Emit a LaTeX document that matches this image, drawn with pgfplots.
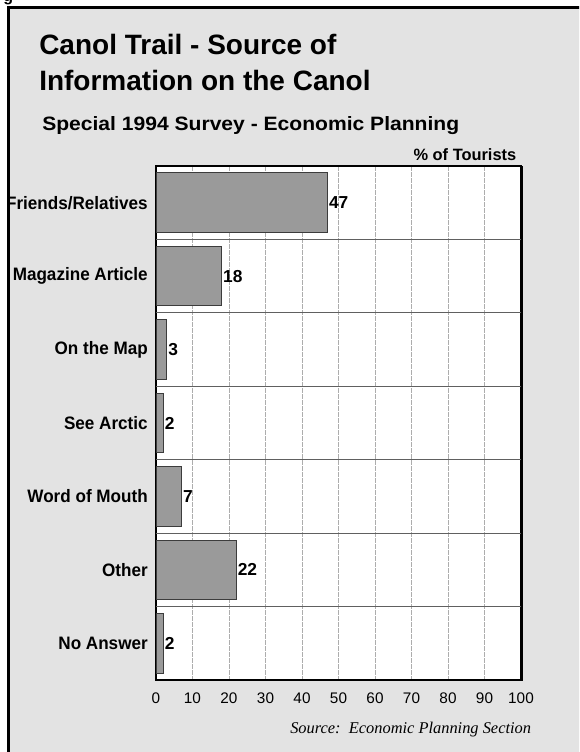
\documentclass[border=0pt]{standalone}
\usepackage{pgfplots}
\pgfplotsset{compat=1.18}
\usepackage{fontspec}
\setmainfont{Liberation Sans}
\newfontfamily\sourcefont{Liberation Serif}
\definecolor{panel}{HTML}{E3E3E3}
\definecolor{barfill}{HTML}{9A9A9A}
\definecolor{baredge}{HTML}{3C3C3C}
\definecolor{sepline}{HTML}{606060}
\definecolor{gridline}{HTML}{ADADAD}
\definecolor{shade}{HTML}{7A7A7A}
% slightly narrowed category names
\newcommand\cat[1]{\scalebox{0.95}[1]{#1}}

\begin{document}
\begin{tikzpicture}
\useasboundingbox (0,0) rectangle (434.25pt,-564pt);
\clip (0,0) rectangle (434.25pt,-564pt);
% panel and headings, laid out on a 0.75pt grid from the top left corner
\begin{scope}[x=0.75pt,y=-0.75pt]
\fill[panel] (8.7,7.5) rectangle (600,780);
\node[anchor=base west, inner sep=0pt, font=\fontsize{12}{14}\selectfont\bfseries] at (3,1.5) {g};
\node[anchor=base west, inner sep=0pt, font=\fontsize{21}{25}\selectfont\bfseries]
      at (39,55) {Canol Trail - Source of};
\node[anchor=base west, inner sep=0pt, font=\fontsize{21}{25}\selectfont\bfseries]
      at (39,90.7) {Information on the Canol};
\node[anchor=base west, inner sep=0pt, font=\fontsize{14.5}{17}\selectfont\bfseries]
      at (42,130.7) {\scalebox{1.09}[1]{Special 1994 Survey - Economic Planning}};
\node[anchor=base east, inner sep=0pt, font=\fontsize{12.3}{14}\selectfont\bfseries]
      at (516.5,160.7) {\% of Tourists};
\node[anchor=base west, inner sep=0pt, font=\fontsize{12.3}{14}\selectfont\sourcefont\itshape]
      at (290,733) {Source:\ \ Economic Planning Section};
\end{scope}

\begin{scope}
\clip (6.5pt,-5.6pt) rectangle (450pt,-600pt);
\begin{axis}[
  at={(117pt,-510pt)}, anchor=south west,
  scale only axis, width=273.75pt, height=385.5pt,
  xbar, bar width=0.81,
  xmin=0, xmax=100, ymin=0.5, ymax=7.5, y dir=reverse,
  xtick={0,10,...,100},
  ytick={1,...,7},
  yticklabels={\cat{Friends/Relatives}, \cat{Magazine Article}, \cat{On the Map}, \cat{See Arctic}, \cat{Word of Mouth}, \cat{Other}, \cat{No Answer}},
  major tick length=0pt,
  xmajorgrids,
  major x grid style={gridline, dash pattern=on 3.5pt off 1pt, line width=0.55pt},
  axis line style={black, line width=1pt},
  axis background/.style={fill=white},
  /pgf/number format/assume math mode=true,
  xticklabel style={font=\fontsize{11.5}{13}\selectfont, anchor=north, inner sep=0pt, yshift=-9.5pt},
  yticklabel style={font=\fontsize{13.5}{16}\selectfont\bfseries, anchor=east, inner sep=0pt, xshift=-6pt},
  nodes near coords,
  nodes near coords style={font=\fontsize{13}{15}\selectfont\bfseries, anchor=west, inner sep=0.75pt},
  clip=false,
]
\addplot[fill=barfill, draw=baredge, line width=0.75pt]
  coordinates {(47,1) (18,2) (3,3) (2,4) (7,5) (22,6) (2,7)};
% separators between the answer categories
\draw[sepline, line width=0.8pt] (axis cs:0,1.5) -- (axis cs:100,1.5);
\draw[sepline, line width=0.8pt] (axis cs:0,2.5) -- (axis cs:100,2.5);
\draw[sepline, line width=0.8pt] (axis cs:0,3.5) -- (axis cs:100,3.5);
\draw[sepline, line width=0.8pt] (axis cs:0,4.5) -- (axis cs:100,4.5);
\draw[sepline, line width=0.8pt] (axis cs:0,5.5) -- (axis cs:100,5.5);
\draw[sepline, line width=0.8pt] (axis cs:0,6.5) -- (axis cs:100,6.5);
% thin shadow along the right edge of the plot box
\draw[shade, line width=0.9pt] ([xshift=1.1pt]axis cs:100,0.5) -- ([xshift=1.1pt,yshift=-0.6pt]axis cs:100,7.5);
\end{axis}
\end{scope}

% frame of the panel
\begin{scope}[x=0.75pt,y=-0.75pt]
\draw[line width=2.1pt] (8.7,780) -- (8.7,7.5) -- (600,7.5);
\end{scope}
\end{tikzpicture}
\end{document}
